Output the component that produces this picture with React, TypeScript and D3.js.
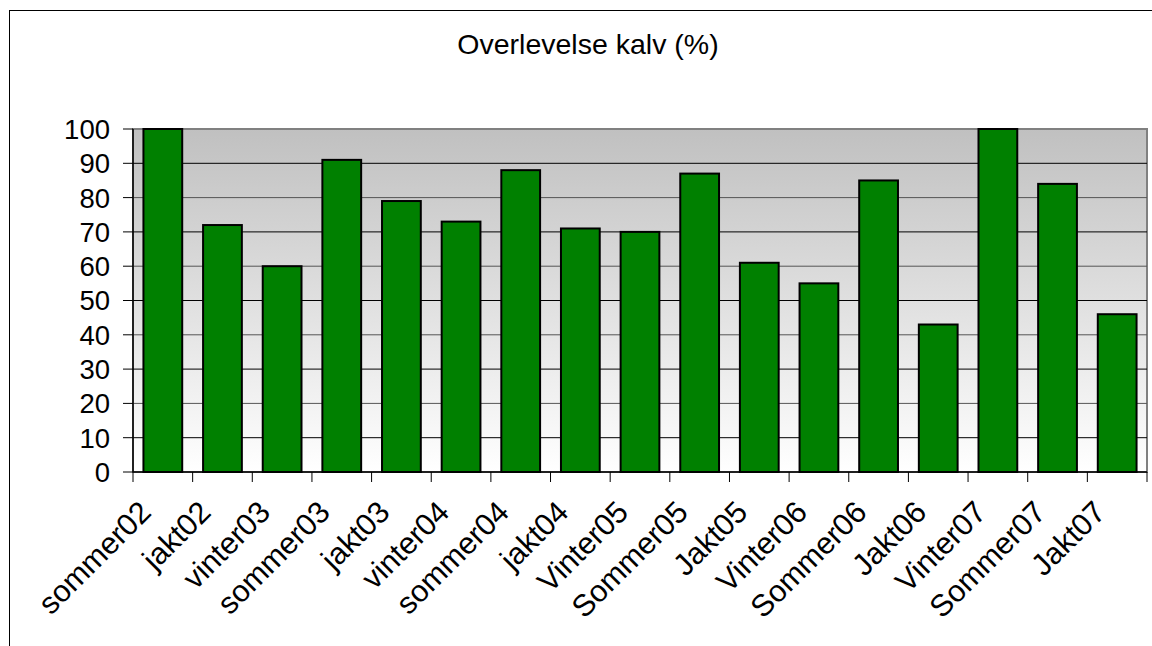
import React from "react";
import * as d3 from "d3";

const categories = [
  "sommer02", "jakt02", "vinter03", "sommer03", "jakt03", "vinter04", "sommer04", "jakt04",
  "Vinter05", "Sommer05", "Jakt05", "Vinter06", "Sommer06", "Jakt06", "Vinter07", "Sommer07", "Jakt07",
];
const values = [100, 72, 60, 91, 79, 73, 88, 71, 70, 87, 61, 55, 85, 43, 100, 84, 46];
const yTicks = [0, 10, 20, 30, 40, 50, 60, 70, 80, 90, 100];
const title = "Overlevelse kalv (%)";

const W = 1152;
const H = 646;
const left = 133;
const right = 1147;
const top = 129;
const bottom = 472;
const font = "Arial, 'Liberation Sans', sans-serif";

export default function App() {
  const x = d3.scaleBand<string>().domain(categories).range([left, right]).paddingInner(0.35).paddingOuter(0.175);
  const xb = d3.scaleBand<string>().domain(categories).range([left, right]);
  const y = d3.scaleLinear().domain([0, 100]).range([bottom, top]);
  const band = xb.bandwidth();

  return (
    <svg width={W} height={H} style={{ position: "absolute", left: 0, top: 0, background: "#fff" }}>
      <defs>
        <linearGradient id="bg" x1="0" y1="0" x2="0" y2="1">
          <stop offset="0" stopColor="#c0c0c0" />
          <stop offset="1" stopColor="#ffffff" />
        </linearGradient>
      </defs>
      <rect x={9.5} y={10.5} width={1300} height={800} fill="#fff" stroke="#000" strokeWidth={1} />
      <text x={588} y={54} textAnchor="middle" fontFamily={font} fontSize={28.5} fill="#000">{title}</text>
      <rect x={left} y={top} width={right - left} height={bottom - top} fill="url(#bg)" stroke="#808080" strokeWidth={2} />
      {yTicks.filter((t) => t > 0 && t < 100).map((t) => (
        <line key={"g" + t} x1={left} x2={right} y1={y(t)} y2={y(t)} stroke={t % 20 === 0 ? "#555" : "#000"} strokeWidth={1} />
      ))}
      {categories.map((c, i) => (
        <rect
          key={c}
          x={x(c)!}
          y={y(values[i])}
          width={x.bandwidth()}
          height={bottom - y(values[i])}
          fill="#008000"
          stroke="#000"
          strokeWidth={2}
        />
      ))}
      <line x1={left} x2={left} y1={top} y2={bottom} stroke="#000" strokeWidth={1.5} />
      <line x1={left} x2={right} y1={bottom} y2={bottom} stroke="#000" strokeWidth={1.5} />
      {yTicks.map((t) => (
        <g key={"y" + t}>
          <line x1={left - 10} x2={left} y1={y(t)} y2={y(t)} stroke="#000" strokeWidth={1} />
          <text x={110} y={y(t)} dy="0.36em" textAnchor="end" fontFamily={font} fontSize={27.5} fill="#000">{t}</text>
        </g>
      ))}
      {categories.map((c) => (
        <line key={"t" + c} x1={xb(c)!} x2={xb(c)!} y1={bottom} y2={bottom + 10} stroke="#000" strokeWidth={1} />
      ))}
      <line x1={right} x2={right} y1={bottom} y2={bottom + 10} stroke="#000" strokeWidth={1} />
      {categories.map((c) => {
        const cx = xb(c)! + band / 2 - 10;
        const cy = bottom + 42;
        return (
          <text
            key={"l" + c}
            transform={`translate(${cx},${cy}) rotate(-45)`}
            textAnchor="end"
            fontFamily={font}
            fontSize={30.5}
            fill="#000"
          >
            {c}
          </text>
        );
      })}
    </svg>
  );
}
